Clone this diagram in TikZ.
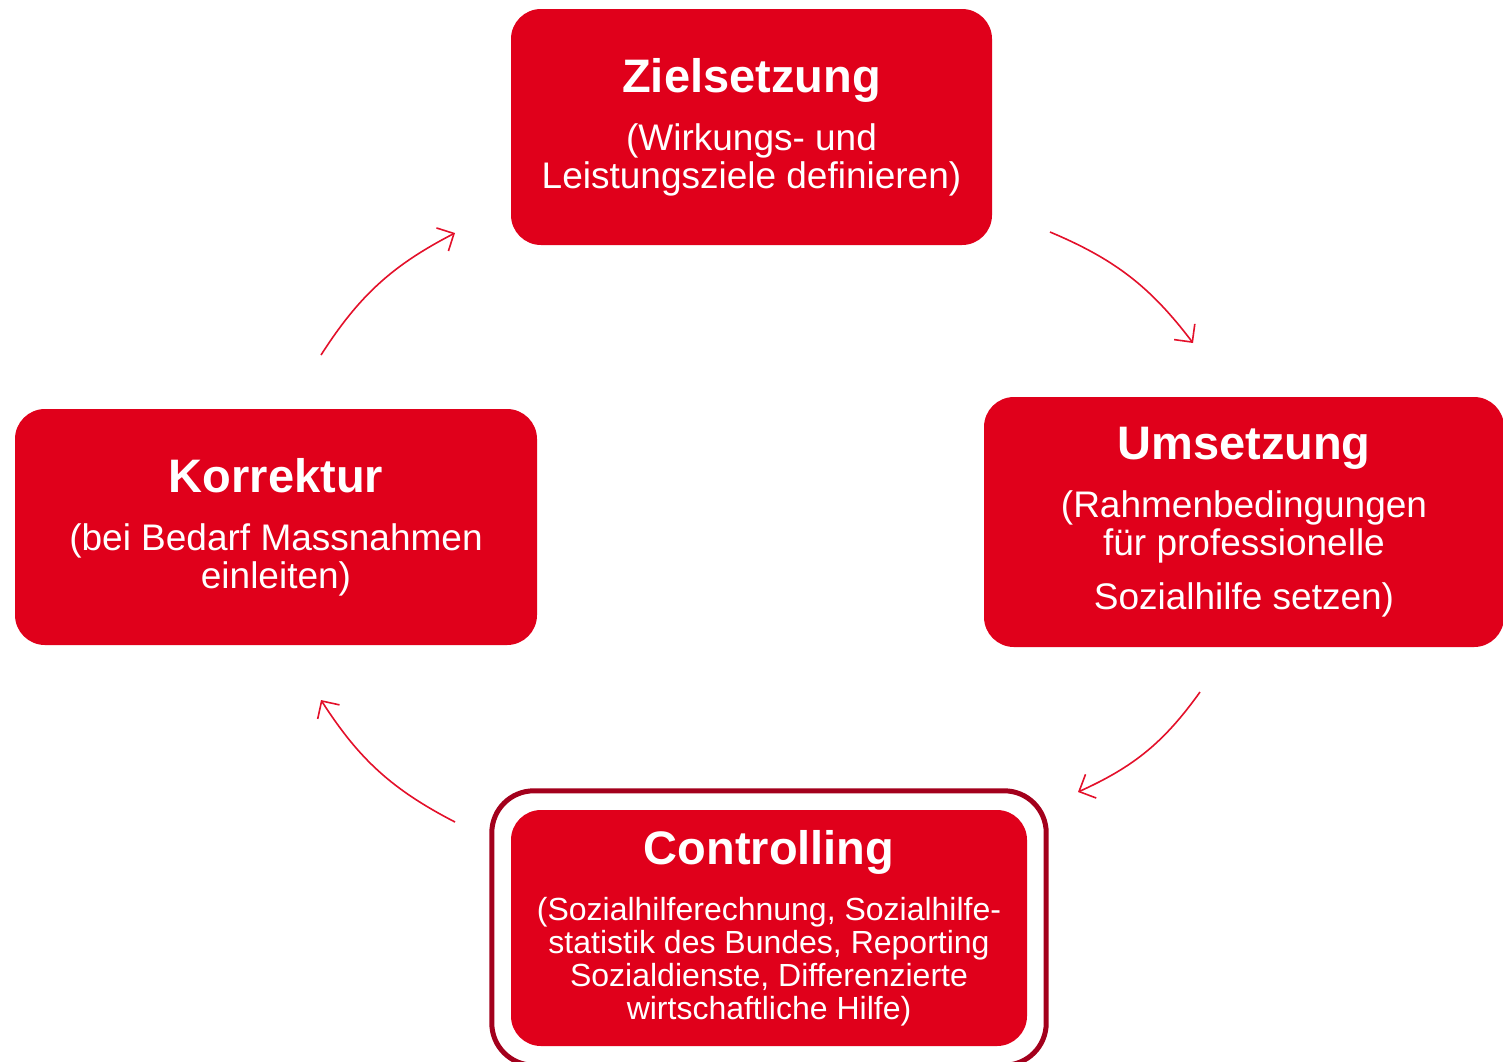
\documentclass[tikz,border=0pt]{standalone}
\usepackage{fontspec}
\setmainfont{Liberation Sans}
\usetikzlibrary{arrows.meta, fit}
\definecolor{boxred}{HTML}{E0001B}
\definecolor{framered}{HTML}{A3001C}
\definecolor{arrowred}{HTML}{E3102A}
\tikzstyle{phase} = [rectangle, rounded corners=30pt, fill=boxred, text=white, align=center, inner sep=0pt, font=\fontsize{37}{38}\selectfont]
\tikzstyle{frame} = [rectangle, rounded corners=42pt, draw=framered, line width=5pt, inner sep=19pt]
\tikzstyle{arrow} = [draw=arrowred, line width=1.6pt, -{Straight Barb[length=13pt,width=26pt]}]
\newcommand{\phasetitle}[1]{{\fontsize{47}{50}\selectfont\bfseries #1}}

\begin{document}
\begin{tikzpicture}[x=1pt, y=1pt]
\useasboundingbox (0,0) rectangle (1503,-1061);

\node (ziel) [phase, minimum width=481, minimum height=236] at (751.5,-127) {\phasetitle{Zielsetzung}\\[20pt] (Wirkungs- und\\ Leistungsziele definieren)};
\node (umsetz) [phase, minimum width=520, minimum height=250] at (1244,-522) {\phasetitle{Umsetzung}\\[20pt] (Rahmenbedingungen\\ für professionelle\\[16pt] Sozialhilfe setzen)};
\node (korr) [phase, minimum width=522, minimum height=236] at (276,-527) {\phasetitle{Korrektur}\\[20pt] (bei Bedarf Massnahmen\\ einleiten)};
\node (ctrl) [phase, minimum width=516, minimum height=236, font=\fontsize{32}{33}\selectfont] at (769,-928) {\phasetitle{Controlling}\\[22pt] (Sozialhilferechnung, Sozialhilfe-\\ statistik des Bundes, Reporting\\ Sozialdienste, Differenzierte\\ wirtschaftliche Hilfe)};
\node (ctrlframe) [frame, fit=(ctrl)] {};

%% arrow ends
\coordinate (zielout) at (1050,-232);
\coordinate (umsetzin) at (1193,-343);
\coordinate (umsetzout) at (1200,-692);
\coordinate (ctrlin) at (1078,-792);
\coordinate (ctrlout) at (455,-822);
\coordinate (korrin) at (321,-700);
\coordinate (korrout) at (321,-355);
\coordinate (zielin) at (455,-233);

%% arrows
\draw [arrow] (zielout) to[bend left=15] (umsetzin);
\draw [arrow] (umsetzout) to[bend left=15] (ctrlin);
\draw [arrow] (ctrlout) to[bend left=15] (korrin);
\draw [arrow] (korrout) to[bend left=15] (zielin);

\end{tikzpicture}
\end{document}
